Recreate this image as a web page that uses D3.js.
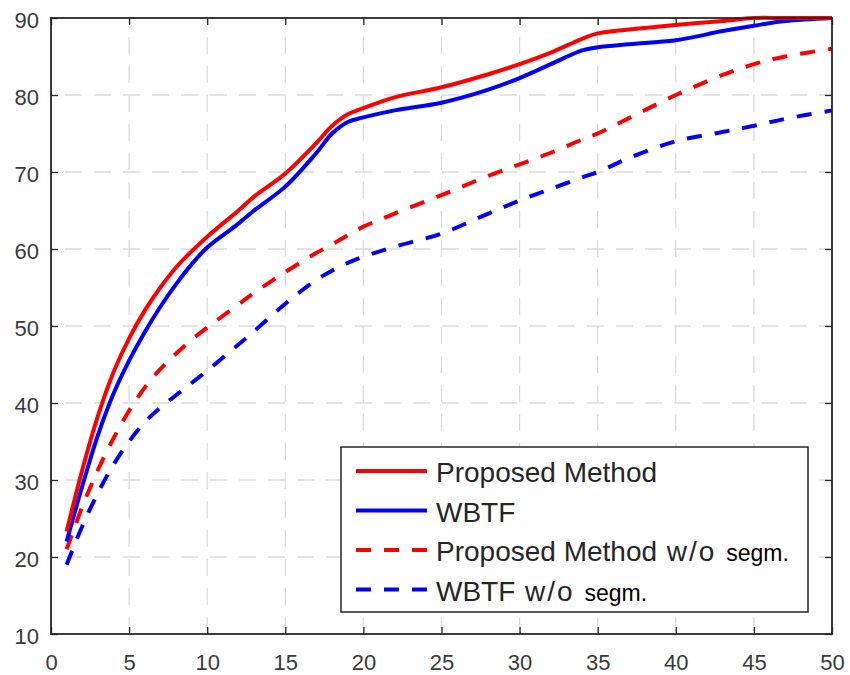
<!DOCTYPE html>
<html>
<head>
<meta charset="utf-8">
<script src="https://cdn.jsdelivr.net/npm/d3@7"></script>
<style>
  body { margin: 0; background: #fff; }
  text { font-family: "Liberation Sans", Arial, Helvetica, sans-serif; }
</style>
</head>
<body>
<script>
// x positions (same for every curve)
var xs = [1, 2, 3, 4, 5, 6, 7, 8, 9, 10, 12, 13, 15, 17, 18, 19, 20, 22, 25, 28, 30, 32, 34, 35, 37, 40, 43, 45, 47, 50];

var proposed = [23.3, 31.3, 38.3, 44, 48.4, 52, 55, 57.6, 59.7, 61.6, 65, 66.8, 69.8, 73.8, 76, 77.5, 78.3, 79.7, 81, 82.7, 84, 85.5, 87.3, 88, 88.5, 89.1, 89.6, 90, 90, 90];
var wbtf = [22, 29.2, 35.8, 41.2, 45.5, 49.2, 52.5, 55.4, 58, 60.2, 63.3, 65, 68.1, 72.5, 75, 76.5, 77.1, 78, 79, 80.7, 82.2, 84, 85.8, 86.2, 86.6, 87.1, 88.3, 89, 89.6, 90];
var proposedNoSeg = [21, 26.5, 31.3, 35.4, 39, 42, 44.4, 46.4, 48.2, 49.8, 52.8, 54.3, 57, 59.5, 60.6, 61.8, 62.9, 64.6, 67, 69.5, 71, 72.5, 74.2, 75, 77, 80, 82.6, 84, 85, 86];
var wbtfNoSeg = [19, 24, 28.3, 32, 35, 37.5, 39.4, 41, 42.6, 44.2, 47.6, 49.3, 52.9, 56, 57.2, 58.2, 59, 60.3, 62, 64.6, 66.3, 67.8, 69.3, 70, 71.8, 74, 75.2, 76, 76.9, 78];

var xTicks = [0, 5, 10, 15, 20, 25, 30, 35, 40, 45, 50];
var yTicks = [10, 20, 30, 40, 50, 60, 70, 80, 90];

var series = [
  { name: "Proposed Method", values: proposed, color: "#ff0000", dashed: false },
  { name: "WBTF", values: wbtf, color: "#0000ff", dashed: false },
  { name: "Proposed Method", values: proposedNoSeg, color: "#ff0000", dashed: true },
  { name: "WBTF", values: wbtfNoSeg, color: "#0000ff", dashed: true }
];

var marges = { top: 18, right: 18, bottom: 41, left: 51 };
var width = 850 - marges.left - marges.right,
    height = 675 - marges.top - marges.bottom;

var svg = d3.select("body").append("svg")
  .attr("width", 850)
  .attr("height", 675);

var canevas = svg.append("g")
  .attr("transform", "translate(" + marges.left + "," + marges.top + ")");

var echelleX = d3.scaleLinear().domain([0, 50]).range([0, width]);
var echelleY = d3.scaleLinear().domain([10, 90]).range([height, 0]);

// grid
canevas.append("g").selectAll("line")
  .data(xTicks.slice(1, -1))
  .enter().append("line")
  .attr("x1", d => echelleX(d)).attr("x2", d => echelleX(d))
  .attr("y1", height).attr("y2", 0)
  .attr("stroke", "#dcdcdc").attr("stroke-width", 1.3)
  .attr("stroke-dasharray", "17,12");

canevas.append("g").selectAll("line")
  .data(yTicks.slice(1, -1))
  .enter().append("line")
  .attr("x1", 0).attr("x2", width)
  .attr("y1", d => echelleY(d)).attr("y2", d => echelleY(d))
  .attr("stroke", "#dcdcdc").attr("stroke-width", 1.3)
  .attr("stroke-dasharray", "17,12")
  .attr("stroke-dashoffset", -14);

// axes, ticks pointing inward
var axeX = d3.axisBottom(echelleX).tickValues(xTicks).tickSizeInner(-7).tickSizeOuter(0).tickPadding(20);
var axeY = d3.axisLeft(echelleY).tickValues(yTicks).tickSizeInner(-7).tickSizeOuter(0).tickPadding(12);
var axeHaut = d3.axisTop(echelleX).tickValues(xTicks).tickSizeInner(-7).tickSizeOuter(0).tickFormat("");
var axeDroit = d3.axisRight(echelleY).tickValues(yTicks).tickSizeInner(-7).tickSizeOuter(0).tickFormat("");

function styleAxe(g) {
  g.select(".domain").remove();
  g.selectAll("line").attr("stroke", "#262626").attr("stroke-width", 1.3);
  g.selectAll("text").attr("fill", "#3a3a3a").style("font-size", "22px");
}

canevas.append("g").attr("transform", "translate(0," + height + ")").call(axeX).call(styleAxe);
canevas.append("g").call(axeY).call(styleAxe).selectAll("text").attr("dy", "0.45em");
canevas.append("g").call(axeHaut).call(styleAxe);
canevas.append("g").attr("transform", "translate(" + width + ",0)").call(axeDroit).call(styleAxe);

// curves
var ligne = d3.line()
  .x((d, i) => echelleX(xs[i]))
  .y(d => echelleY(d))
  .curve(d3.curveCatmullRom.alpha(0.5));

canevas.selectAll(".courbe")
  .data(series.slice().reverse())
  .enter().append("path")
  .attr("class", "courbe")
  .attr("d", d => ligne(d.values))
  .attr("fill", "none")
  .attr("stroke", d => d.color)
  .attr("stroke-width", 4)
  .attr("stroke-dasharray", d => d.dashed ? "15,13" : null);

// frame
canevas.append("rect")
  .attr("width", width).attr("height", height)
  .attr("fill", "none").attr("stroke", "#262626").attr("stroke-width", 1.8);

// legend
var legende = svg.append("g").attr("transform", "translate(341,447)");
legende.append("rect")
  .attr("width", 467).attr("height", 165)
  .attr("fill", "#fff").attr("stroke", "#262626").attr("stroke-width", 1.5);

var rangs = legende.selectAll(".rang")
  .data(series)
  .enter().append("g")
  .attr("class", "rang")
  .attr("transform", (d, i) => "translate(0," + (24 + i * 39.5) + ")");

rangs.append("line")
  .attr("x1", 15).attr("x2", 86)
  .attr("stroke", d => d.color).attr("stroke-width", 4)
  .attr("stroke-dasharray", d => d.dashed ? "15,13" : null);

var textes = rangs.append("text")
  .attr("x", 95).attr("y", 11)
  .attr("fill", "#262626")
  .style("font-size", "28px")
  .text(d => d.name);

textes.filter(d => d.dashed).append("tspan")
  .attr("letter-spacing", "2px")
  .text(" w/o ");
textes.filter(d => d.dashed).append("tspan")
  .attr("fill", "#000")
  .style("font-size", "23px")
  .text("segm.");
</script>
</body>
</html>
